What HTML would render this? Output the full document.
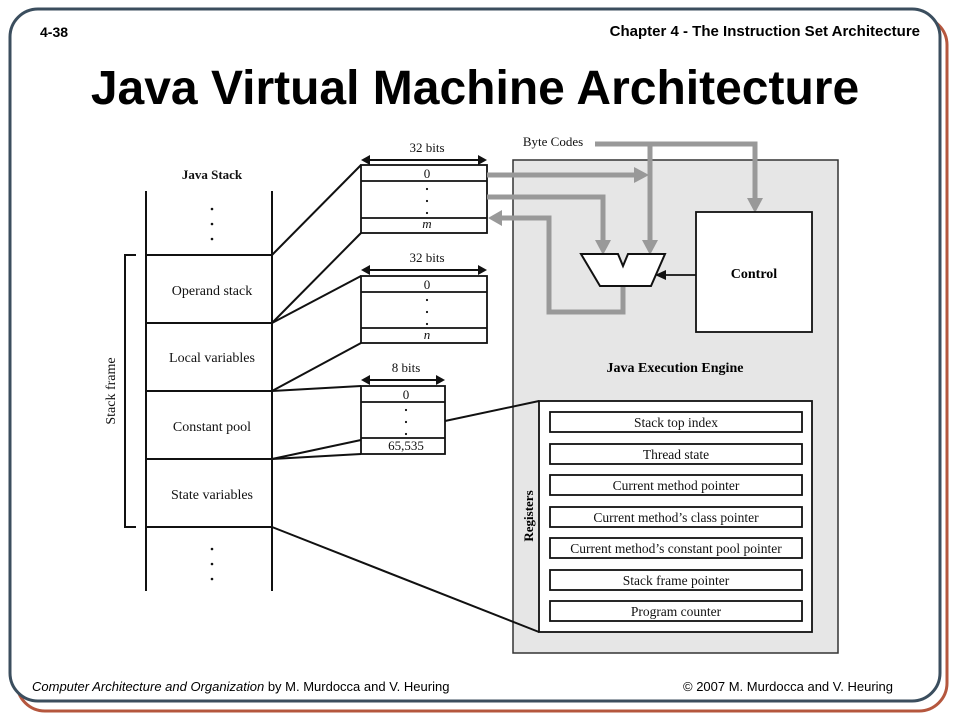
<!DOCTYPE html>
<html><head><meta charset="utf-8"><style>
body{margin:0;width:960px;height:720px;background:#fff;overflow:hidden}
</style></head><body>
<svg width="960" height="720" xmlns="http://www.w3.org/2000/svg" font-family="Liberation Serif, serif">
<rect x="17" y="17" width="930" height="694" rx="28" fill="none" stroke="#b5573e" stroke-width="3"/>
<rect x="10" y="9" width="930" height="692" rx="28" fill="#fff" stroke="#3b4e5e" stroke-width="3"/>
<g font-family="Liberation Sans, sans-serif" font-weight="bold">
<text x="40" y="37" font-size="14">4-38</text>
<text x="920" y="36" font-size="15" text-anchor="end">Chapter 4 - The Instruction  Set Architecture</text>
<text x="475" y="104" font-size="48" text-anchor="middle">Java Virtual Machine Architecture</text>
</g>
<g font-family="Liberation Sans, sans-serif" font-size="13">
<text x="32" y="691"><tspan font-style="italic">Computer Architecture and Organization</tspan> by M. Murdocca and V. Heuring</text>
<text x="893" y="691" text-anchor="end">© 2007 M. Murdocca and V. Heuring</text>
</g>
<rect x="513" y="160" width="325" height="493" fill="#e6e6e6" stroke="#333" stroke-width="1.5"/>
<g stroke="#111" stroke-width="2" fill="none">
<line x1="146" y1="191" x2="146" y2="591"/><line x1="272" y1="191" x2="272" y2="591"/>
<line x1="146" y1="255" x2="272" y2="255"/><line x1="146" y1="323" x2="272" y2="323"/>
<line x1="146" y1="391" x2="272" y2="391"/><line x1="146" y1="459" x2="272" y2="459"/>
<line x1="146" y1="527" x2="272" y2="527"/>
<polyline points="136,255 125,255 125,527 136,527"/>
<line x1="272" y1="255" x2="361" y2="165"/><line x1="272" y1="323" x2="361" y2="233"/>
<line x1="272" y1="323" x2="361" y2="276"/><line x1="272" y1="391" x2="361" y2="343"/>
<line x1="272" y1="391" x2="361" y2="386"/><line x1="272" y1="459" x2="361" y2="440"/>
<line x1="272" y1="459" x2="361" y2="454"/><line x1="272" y1="527" x2="539" y2="632"/>
<line x1="445" y1="421" x2="539" y2="401"/>
</g>
<g font-size="14" text-anchor="middle" fill="#111">
<text x="212" y="179" font-weight="bold" font-size="13">Java Stack</text>
<text x="212" y="295">Operand stack</text>
<text x="212" y="362">Local variables</text>
<text x="212" y="431">Constant pool</text>
<text x="212" y="499">State variables</text>
<text transform="translate(115,391) rotate(-90)" x="0" y="0">Stack frame</text>
</g>
<g fill="#111">
<circle cx="212" cy="209" r="1.3"/><circle cx="212" cy="224" r="1.3"/><circle cx="212" cy="239" r="1.3"/>
<circle cx="212" cy="549" r="1.3"/><circle cx="212" cy="564" r="1.3"/><circle cx="212" cy="579" r="1.3"/>
</g>
<g stroke="#111" stroke-width="1.8" fill="#fff">
<rect x="361" y="165" width="126" height="68"/><line x1="361" y1="181" x2="487" y2="181"/><line x1="361" y1="218" x2="487" y2="218"/>
<rect x="361" y="276" width="126" height="67"/><line x1="361" y1="292" x2="487" y2="292"/><line x1="361" y1="328" x2="487" y2="328"/>
<rect x="361" y="386" width="84" height="68"/><line x1="361" y1="402" x2="445" y2="402"/><line x1="361" y1="438" x2="445" y2="438"/>
</g>
<g stroke="#111" stroke-width="2">
<line x1="366" y1="160" x2="482" y2="160"/><line x1="366" y1="270" x2="482" y2="270"/><line x1="366" y1="380" x2="440" y2="380"/>
</g>
<g fill="#111">
<polygon points="361,160 370,155 370,165"/><polygon points="487,160 478,155 478,165"/>
<polygon points="361,270 370,265 370,275"/><polygon points="487,270 478,265 478,275"/>
<polygon points="361,380 370,375 370,385"/><polygon points="445,380 436,375 436,385"/>
<circle cx="427" cy="189" r="1.1"/><circle cx="427" cy="201" r="1.1"/><circle cx="427" cy="213" r="1.1"/>
<circle cx="427" cy="300" r="1.1"/><circle cx="427" cy="312" r="1.1"/><circle cx="427" cy="324" r="1.1"/>
<circle cx="406" cy="410" r="1.1"/><circle cx="406" cy="422" r="1.1"/><circle cx="406" cy="434" r="1.1"/>
</g>
<g font-size="13" text-anchor="middle" fill="#111">
<text x="427" y="152">32 bits</text><text x="427" y="262">32 bits</text><text x="406" y="372">8 bits</text>
<text x="427" y="178">0</text><text x="427" y="228" font-style="italic">m</text>
<text x="427" y="289">0</text><text x="427" y="339" font-style="italic">n</text>
<text x="406" y="399">0</text><text x="406" y="450">65,535</text>
<text x="553" y="146" text-anchor="middle">Byte Codes</text>
</g>
<g stroke="#999" stroke-width="5" fill="none">
<polyline points="595,144 755,144 755,200"/>
<line x1="650" y1="144" x2="650" y2="242"/>
<line x1="487" y1="175" x2="636" y2="175"/>
<polyline points="487,197 603,197 603,242"/>
<polyline points="623,286 623,312 549,312 549,218 500,218"/>
</g>
<g fill="#999">
<polygon points="747,198 763,198 755,213"/><polygon points="642,240 658,240 650,255"/>
<polygon points="595,240 611,240 603,255"/><polygon points="634,167 634,183 649,175"/>
<polygon points="502,210 502,226 488,218"/>
</g>
<polygon points="581,254 618,254 623,266 628,254 665,254 651,286 600,286" fill="#fff" stroke="#111" stroke-width="2"/>
<rect x="696" y="212" width="116" height="120" fill="#fff" stroke="#111" stroke-width="1.8"/>
<line x1="696" y1="275" x2="664" y2="275" stroke="#111" stroke-width="1.8"/>
<polygon points="655,275 666,270 666,280" fill="#111"/>
<text x="754" y="278" font-size="14" font-weight="bold" text-anchor="middle">Control</text>
<text x="675" y="372" font-size="14" font-weight="bold" text-anchor="middle">Java Execution Engine</text>
<rect x="539" y="401" width="273" height="231" fill="#fff" stroke="#111" stroke-width="1.8"/>
<text transform="translate(533,516) rotate(-90)" font-size="13" font-weight="bold" text-anchor="middle">Registers</text>
<g stroke="#111" stroke-width="1.8" fill="#fff">
<rect x="550" y="412" width="252" height="20"/><rect x="550" y="444" width="252" height="20"/>
<rect x="550" y="475" width="252" height="20"/><rect x="550" y="507" width="252" height="20"/>
<rect x="550" y="538" width="252" height="20"/><rect x="550" y="570" width="252" height="20"/>
<rect x="550" y="601" width="252" height="20"/>
</g>
<g font-size="13.5" text-anchor="middle" fill="#111">
<text x="676" y="427">Stack top index</text><text x="676" y="459">Thread state</text>
<text x="676" y="490">Current method pointer</text><text x="676" y="522">Current method’s class pointer</text>
<text x="676" y="553">Current method’s constant pool pointer</text><text x="676" y="585">Stack frame pointer</text>
<text x="676" y="616">Program counter</text>
</g>
</svg>
</body></html>
